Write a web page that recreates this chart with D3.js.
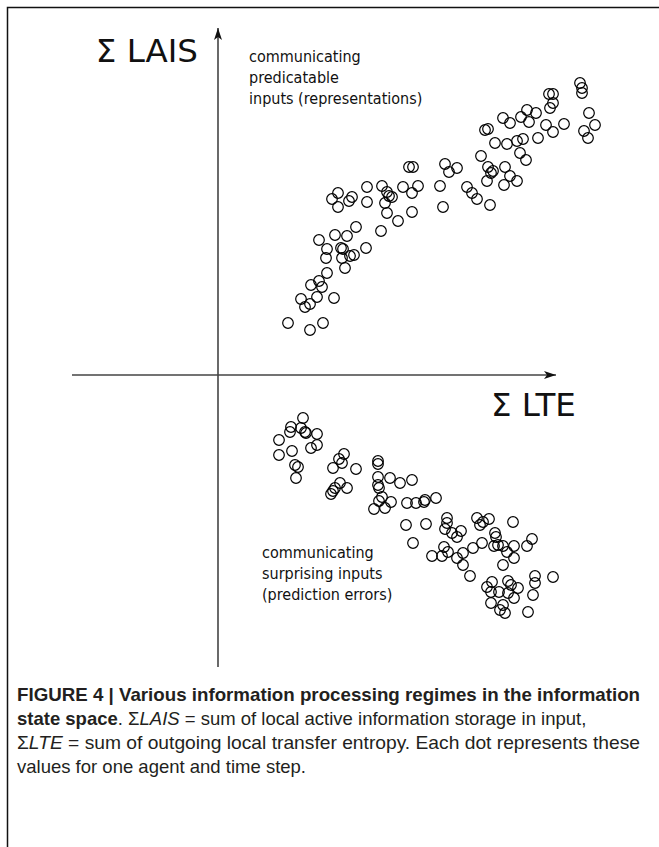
<!DOCTYPE html>
<html>
<head>
<meta charset="utf-8">
<script src="https://cdn.jsdelivr.net/npm/d3@7"></script>
<style>
  body { margin: 0; background: #fff; }
  svg text { fill: #111; }
</style>
</head>
<body>
<div id="container"></div>
<script>
// sum of local transfer entropy (x) and sum of local active info storage (y)
var upperLTE = [1.91, 1.95, 1.49, 1.64, 1.85, 2.00, 1.20, 1.14, 1.20, 1.31, 1.34, 1.49, 1.69, 1.71, 1.74, 1.67,
    1.69, 1.94, 1.94, 1.80, 1.38, 1.63, 1.17, 1.29, 1.01, 1.09, 1.23, 1.25, 1.48, 1.08, 1.24, 1.32, 1.36,
    1.27, 1.09, 1.01, 0.93, 1.04, 0.99, 1.16, 0.83, 0.87, 0.92, 0.70, 0.92, 1.05,
    3.62, 3.64, 3.64, 3.31, 3.35, 3.35, 3.32, 3.71, 3.77, 3.66, 3.70, 3.09, 3.18, 3.11, 3.03, 2.85, 2.92,
    3.28, 3.35, 3.46, 2.67, 2.70, 2.77, 2.89, 2.99, 3.05, 3.20, 3.02, 3.08, 2.63, 2.27, 2.31, 2.39, 2.70,
    2.73, 2.75, 2.69, 2.87, 2.92, 2.99, 2.86, 2.22, 2.49, 2.54, 2.59, 2.25, 2.72];
var upperLAIS = [2.08, 2.08, 1.88, 1.89, 1.88, 1.89, 1.82, 1.76, 1.68, 1.74, 1.78, 1.73, 1.83, 1.79, 1.78, 1.72,
    1.62, 1.82, 1.63, 1.54, 1.48, 1.44, 1.40, 1.39, 1.35, 1.26, 1.27, 1.26, 1.27, 1.17, 1.17, 1.19, 1.20,
    1.07, 1.02, 0.94, 0.90, 0.88, 0.78, 0.77, 0.76, 0.68, 0.71, 0.52, 0.45, 0.52,
    2.92, 2.87, 2.82, 2.81, 2.81, 2.72, 2.67, 2.62, 2.50, 2.44, 2.37, 2.65, 2.62, 2.53, 2.58, 2.57, 2.52,
    2.50, 2.43, 2.51, 2.45, 2.46, 2.32, 2.31, 2.34, 2.36, 2.37, 2.22, 2.15, 2.19, 2.11, 2.03, 2.07, 2.08,
    2.02, 2.04, 1.94, 2.08, 1.99, 1.94, 1.90, 1.89, 1.88, 1.82, 1.76, 1.68, 1.70];

var lowerLTE = [0.85, 0.73, 0.72, 0.83, 0.87, 0.88, 0.61, 0.99, 0.99, 0.93, 0.61, 0.74, 0.77, 0.80, 0.78,
    1.26, 1.21, 1.24, 1.15, 1.38, 1.60, 1.60, 1.60, 1.72, 1.82, 1.94, 1.60, 1.61, 1.22, 1.29, 1.17, 1.15,
    1.13, 1.64, 1.61, 1.73, 1.56, 1.67, 1.89, 1.98, 2.06, 2.07, 1.88, 2.08, 1.95, 2.14, 2.18, 2.29, 2.29,
    2.27, 2.34, 2.43, 2.39, 2.59, 2.62, 2.65, 2.71, 2.95, 2.77, 2.78, 2.76, 2.80, 2.85, 3.14, 3.09, 2.96,
    2.64, 2.55, 2.45, 2.26, 2.30, 2.24, 2.39, 2.45, 2.89, 2.96, 2.85, 2.52, 2.74, 2.69, 2.73, 2.81, 2.90,
    2.93, 3.00, 2.90, 2.96, 3.17, 3.17, 3.35, 3.15, 2.73, 2.85, 2.82, 2.87, 3.10];
var lowerLAIS = [-0.43, -0.52, -0.57, -0.53, -0.57, -0.58, -0.65, -0.59, -0.70, -0.73, -0.80, -0.76, -0.90,
    -0.92, -1.03, -0.79, -0.84, -0.88, -0.93, -0.94, -0.86, -0.89, -1.02, -1.03, -1.08, -1.05, -1.10, -1.13,
    -1.08, -1.13, -1.13, -1.16, -1.19, -1.22, -1.26, -1.27, -1.34, -1.33, -1.28, -1.28, -1.27, -1.25, -1.50,
    -1.49, -1.68, -1.81, -1.23, -1.43, -1.48, -1.54, -1.58, -1.56, -1.62, -1.43, -1.50, -1.47, -1.44, -1.47,
    -1.58, -1.62, -1.71, -1.70, -1.71, -1.64, -1.71, -1.71, -1.68, -1.73, -1.78, -1.72, -1.77, -1.81, -1.83,
    -1.90, -1.77, -1.83, -1.90, -2.01, -2.07, -2.12, -2.17, -2.17, -2.06, -2.10, -2.13, -2.18, -2.23, -2.01,
    -2.08, -2.02, -2.20, -2.28, -2.30, -2.35, -2.38, -2.37];

var upperLabel = ['communicating', 'predicatable', 'inputs (representations)'];
var lowerLabel = ['communicating', 'surprising inputs', '(prediction errors)'];

var width = 659,
    height = 847;

var svg = d3.select('#container')
    .append('svg')
    .attr('width', width)
    .attr('height', height);

// frame: only top and left edges are visible in the figure
svg.append('path')
    .attr('d', 'M7.5,' + height + 'V7.5H' + width)
    .attr('fill', 'none')
    .attr('stroke', '#111')
    .attr('stroke-width', 1.5);

var x = d3.scaleLinear()
    .domain([-1.46, 3.38])
    .range([72, 556]);

var y = d3.scaleLinear()
    .domain([-2.92, 3.47])
    .range([667, 28]);

var defs = svg.append('defs');
defs.append('marker')
    .attr('id', 'arrow')
    .attr('viewBox', '0 0 12 8')
    .attr('refX', 12)
    .attr('refY', 4)
    .attr('markerWidth', 12)
    .attr('markerHeight', 8)
    .attr('markerUnits', 'userSpaceOnUse')
    .attr('orient', 'auto')
    .append('path')
    .attr('d', 'M0,0L12,4L0,8L3,4Z')
    .attr('fill', '#111');

// horizontal axis (sum LTE)
svg.append('line')
    .attr('x1', x.range()[0]).attr('x2', x.range()[1])
    .attr('y1', y(0)).attr('y2', y(0))
    .attr('stroke', '#444')
    .attr('stroke-width', 1.6)
    .attr('marker-end', 'url(#arrow)');

// vertical axis (sum LAIS)
svg.append('line')
    .attr('x1', x(0)).attr('x2', x(0))
    .attr('y1', y.range()[0]).attr('y2', y.range()[1])
    .attr('stroke', '#444')
    .attr('stroke-width', 1.6)
    .attr('marker-end', 'url(#arrow)');

svg.append('text')
    .text('Σ LAIS')
    .attr('x', x(0) - 20)
    .attr('y', 62)
    .attr('text-anchor', 'end')
    .style('font-family', 'DejaVu Sans')
    .style('font-size', '32.5px');

svg.append('text')
    .text('Σ LTE')
    .attr('x', 491)
    .attr('y', 416)
    .style('font-family', 'DejaVu Sans')
    .style('font-size', '32.5px');

var upper = upperLTE.map(function(d, i) { return [d, upperLAIS[i]]; });
var lower = lowerLTE.map(function(d, i) { return [d, lowerLAIS[i]]; });

svg.selectAll('circle')
    .data(upper.concat(lower))
    .enter()
    .append('circle')
    .attr('cx', function(d) { return x(d[0]); })
    .attr('cy', function(d) { return y(d[1]); })
    .attr('r', 5.3)
    .attr('fill', 'none')
    .attr('stroke', '#000')
    .attr('stroke-width', 1.2);

function label(lines, x0, y0) {
    svg.append('g').selectAll('text')
        .data(lines)
        .enter()
        .append('text')
        .text(function(d) { return d; })
        .attr('x', x0)
        .attr('y', function(d, i) { return y0 + i * 21; })
        .style('font-family', 'DejaVu Sans Condensed, DejaVu Sans')
        .style('font-stretch', 'condensed')
        .style('font-size', '16px');
}
label(upperLabel, 249, 62);
label(lowerLabel, 262, 558);

// caption
var capFont = 'Liberation Sans, Arial, sans-serif';
function capLine(yy, len) {
    var t = svg.append('text')
        .attr('x', 17)
        .attr('y', yy)
        .style('font-family', capFont)
        .style('font-size', '18.5px')
        .style('fill', '#231f20');
    if (len) {
        t.attr('textLength', len).attr('lengthAdjust', 'spacingAndGlyphs');
    }
    return t;
}

capLine(701, 623).append('tspan').style('font-weight', 'bold')
    .text('FIGURE 4 | Various information processing regimes in the information');

var l2 = capLine(725);
l2.append('tspan').style('font-weight', 'bold').text('state space');
l2.append('tspan').text('.  Σ');
l2.append('tspan').style('font-style', 'italic').text('LAIS');
l2.append('tspan').text(' = sum of local active information storage in input,');

var l3 = capLine(749, 623);
l3.append('tspan').text('Σ');
l3.append('tspan').style('font-style', 'italic').text('LTE');
l3.append('tspan').text(' = sum of outgoing local transfer entropy. Each dot represents these');

capLine(773).text('values for one agent and time step.');
</script>
</body>
</html>
